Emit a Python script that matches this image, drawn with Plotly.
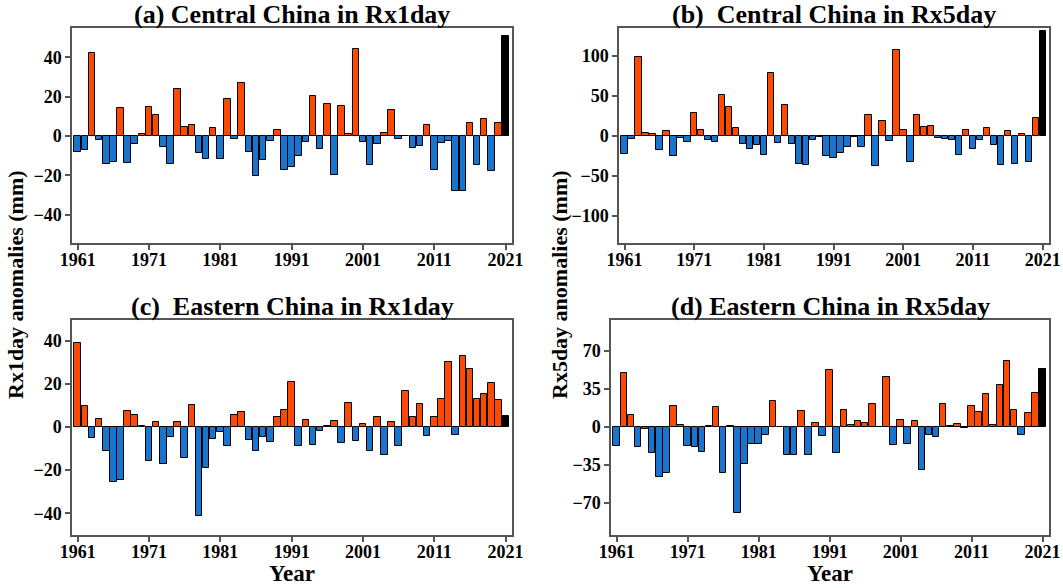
import plotly.graph_objects as go

years = list(range(1961, 2022))

central_rx1day = [-8.0, -7.3, 42.4, -2.2, -14.1, -13.1, 14.1, -13.6, -4.2, 1.2,
                  14.7, 10.5, -5.4, -14.1, 23.7, 4.7, 5.4, -8.8, -11.7, 4.1,
                  -11.7, 19.0, -1.4, 26.8, -8.1, -20.3, -12.0, -2.7, 3.1, -17.1,
                  -15.6, -10.2, -2.9, 20.3, -6.4, 16.1, -19.8, 15.1, 0.8, 44.4,
                  -3.1, -14.7, -3.9, 1.7, 13.4, -1.4, 0.2, -6.3, -5.1, 5.4,
                  -17.1, -3.6, -2.5, -28.1, -28.1, 6.8, -14.6, 8.5, -18.0, 6.6,
                  50.8]

central_rx5day = [-23.0, -3.3, 98.7, 3.3, 2.5, -18.0, 6.3, -25.0, -2.5, -7.5,
                  28.9, 7.5, -5.0, -8.0, 51.5, 35.6, 10.0, -9.6, -16.3, -11.7,
                  -24.3, 78.2, -8.8, 38.9, -9.6, -35.0, -36.0, -5.4, -1.0, -25.5,
                  -27.6, -22.0, -13.8, -1.0, -13.8, 26.4, -38.0, 19.2, -5.9, 107.5,
                  7.9, -32.6, 26.4, 11.3, 12.1, -2.0, -3.5, -4.5, -24.0, 7.1,
                  -16.3, -4.6, 10.5, -11.7, -36.0, 6.3, -35.6, 2.5, -33.0, 22.2,
                  131.0]

eastern_rx1day = [39.0, 9.9, -4.9, 3.7, -11.0, -25.3, -24.4, 7.4, 5.7, 0.3,
                  -15.6, 2.3, -17.3, -4.8, 2.3, -14.4, 10.3, -41.0, -19.1, -5.4,
                  -2.2, -8.8, 5.4, 6.8, -6.0, -11.1, -4.5, -6.8, 4.6, 7.9,
                  21.0, -8.6, 3.2, -8.3, -2.0, 0.5, 2.9, -7.3, 11.0, -6.3,
                  1.4, -11.0, 4.8, -13.1, 2.3, -8.6, 16.8, 4.8, 10.5, -4.2,
                  4.8, 13.1, 30.2, -3.7, 32.9, 26.9, 13.1, 15.1, 20.5, 12.5,
                  4.9]

eastern_rx5day = [-17.6, 49.7, 10.5, -18.5, -2.2, -24.0, -46.0, -42.9, 19.4, 1.2,
                  -18.2, -18.5, -23.5, 0.3, 18.2, -42.3, 0.5, -80.0, -34.9, -15.7,
                  -16.4, -7.7, 23.5, -0.5, -26.0, -26.0, 14.7, -26.3, 3.7, -8.3,
                  52.8, -24.7, 15.4, 1.9, 4.9, 3.4, 20.7, -0.6, 46.0, -17.0,
                  5.9, -16.4, 4.9, -39.8, -8.0, -9.6, 21.0, 0.2, 2.2, -0.9,
                  18.8, 13.3, 30.2, 1.2, 38.9, 60.5, 15.1, -8.0, 13.0, 31.5,
                  53.7]

titles = ["(a) Central China in Rx1day", "(b)  Central China in Rx5day",
          "(c)  Eastern China in Rx1day", "(d) Eastern China in Rx5day"]
x_ticks = [1961, 1971, 1981, 1991, 2001, 2011, 2021]
y_ticks = [[-40, -20, 0, 20, 40], [-100, -50, 0, 50, 100],
           [-40, -20, 0, 20, 40], [-70, -35, 0, 35, 70]]
y_ranges = [[-54.5, 55], [-134, 135], [-50, 49.5], [-100, 98.5]]

ORANGE = "#FF4800"
BLUE = "#1874CD"
BLACK = "#000000"
FONT = "Liberation Serif"

W, H = 1063, 588
# plot areas in pixels: (left, right, top, bottom)
boxes = [(72, 512, 28, 243), (619, 1049, 28, 243),
         (72, 512, 320, 535), (611, 1049, 320, 535)]

series = [central_rx1day, central_rx5day, eastern_rx1day, eastern_rx5day]

fig = go.Figure()
layout = dict(width=W, height=H, margin=dict(l=0, r=0, t=0, b=0, autoexpand=False),
              template="none",
              paper_bgcolor="white", plot_bgcolor="white", showlegend=False,
              bargap=0.0, font=dict(family=FONT, color="black"))
annotations = []

tickfont = dict(family=FONT, size=18, color="black", weight="bold")

for i, vals in enumerate(series):
    n = i + 1
    xa = "x" if n == 1 else f"x{n}"
    ya = "y" if n == 1 else f"y{n}"
    colors = [BLACK if y == 2021 else (ORANGE if v >= 0 else BLUE)
              for y, v in zip(years, vals)]
    fig.add_trace(go.Bar(x=years, y=vals, xaxis=xa, yaxis=ya, width=0.92,
                         marker=dict(color=colors, line=dict(color="black", width=1))))
    l, r, t, b = boxes[i]
    xkey = "xaxis" if n == 1 else f"xaxis{n}"
    ykey = "yaxis" if n == 1 else f"yaxis{n}"
    layout[xkey] = dict(domain=[l / W, r / W], anchor=ya, range=[1960.2, 2021.9],
                        tickvals=x_ticks, ticks="outside", ticklen=5, tickwidth=1.5,
                        tickcolor="#555", showline=True, linecolor="#555", linewidth=1.5,
                        mirror=True, showgrid=False, zeroline=False, automargin=False,
                        tickfont=tickfont)
    layout[ykey] = dict(domain=[1 - b / H, 1 - t / H], anchor=xa, range=y_ranges[i],
                        tickvals=y_ticks[i], ticks="outside", ticklen=5, tickwidth=1.5,
                        tickcolor="#555", showline=True, linecolor="#555", linewidth=1.5,
                        mirror=True, showgrid=False, zeroline=False, automargin=False,
                        tickfont=tickfont)
    annotations.append(dict(text="<b>" + titles[i] + "</b>", xref="paper", yref="paper",
                            x=(l + r) / 2 / W, y=1 - (t - 14) / H, xanchor="center",
                            yanchor="middle", showarrow=False,
                            font=dict(family=FONT, size=26, color="black")))

annotations.append(dict(text="<b>Rx1day anomalies (mm)</b>", xref="paper", yref="paper",
                        x=16 / W, y=1 - 285 / H, textangle=-90, showarrow=False,
                        xanchor="center", yanchor="middle",
                        font=dict(family=FONT, size=22, color="black")))
annotations.append(dict(text="<b>Rx5day anomalies (mm)</b>", xref="paper", yref="paper",
                        x=560 / W, y=1 - 285 / H, textangle=-90, showarrow=False,
                        xanchor="center", yanchor="middle",
                        font=dict(family=FONT, size=22, color="black")))
for cx in [(72 + 512) / 2, (611 + 1049) / 2]:
    annotations.append(dict(text="<b>Year</b>", xref="paper", yref="paper",
                            x=cx / W, y=1 - 588 / H, showarrow=False,
                            xanchor="center", yanchor="bottom",
                            font=dict(family=FONT, size=23, color="black")))

layout["annotations"] = annotations
fig.update_layout(**layout)
try:
    fig.update_xaxes(ticklabelstandoff=-5)
except Exception:
    pass
fig.write_html("out.html", config={"displayModeBar": False},
               post_script="document.body.style.margin='0';document.body.style.padding='0';document.body.style.overflow='hidden';")
